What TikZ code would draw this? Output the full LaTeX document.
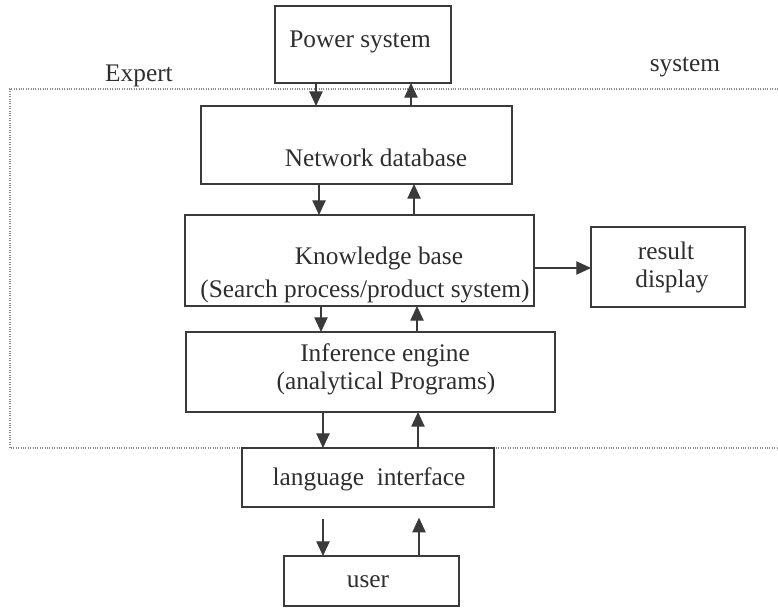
\documentclass[tikz,border=0pt]{standalone}
\usepackage{fontspec}
\setmainfont{Liberation Serif}
\usetikzlibrary{arrows.meta}
\definecolor{ink}{HTML}{3A3A3A}
\definecolor{txt}{HTML}{2E2E2E}
\definecolor{dotc}{HTML}{8A8A8A}
\tikzset{
  box/.style={draw=ink, line width=1pt, inner sep=0pt, outer sep=0pt, rectangle},
  lbl/.style={anchor=base, inner sep=0pt, text=txt, font=\fontsize{19}{23}\selectfont},
  arr/.style={draw=ink, line width=0.9pt, -{Triangle[length=11pt,width=10pt]}},
  frame/.style={draw=dotc, line width=0.8pt, densely dotted}
}
\begin{document}
\begin{tikzpicture}[x=0.75pt,y=-0.75pt]
\useasboundingbox (0,0) rectangle (778,609);
% dotted expert-system frame
\draw[frame] (778,89) -- (10,89) -- (10,448) -- (778,448);
% boxes
\node[box, minimum width=132pt, minimum height=57.75pt] (power) at (363,44.5) {};
\node[box, minimum width=233.25pt, minimum height=58.5pt] (net) at (356.5,145) {};
\node[box, minimum width=261.75pt, minimum height=68.25pt] (kb) at (359.5,260.5) {};
\node[box, minimum width=115.5pt, minimum height=60pt] (res) at (668,267) {};
\node[box, minimum width=276.75pt, minimum height=60pt] (ie) at (370.5,372) {};
\node[box, minimum width=189pt, minimum height=44.25pt] (lang) at (368,477.5) {};
\node[box, minimum width=131.25pt, minimum height=37.5pt] (user) at (371.5,581) {};
% texts
\node[lbl] (tpower) at (360,48) {Power system};
\node[lbl] (texpert) at (139,82) {Expert};
\node[lbl] (tsystem) at (685,72) {system};
\node[lbl] (tnet) at (376,167) {Network database};
\node[lbl] (tkb1) at (379,265) {Knowledge base};
\node[lbl] (tkb2) at (365,298) {(Search process/product system)};
\node[lbl] (tres1) at (666,260) {result};
\node[lbl] (tres2) at (672,288) {display};
\node[lbl] (tie1) at (385,362) {Inference engine};
\node[lbl] (tie2) at (386,390) {(analytical Programs)};
\node[lbl] (tlang) at (369,485) {language\ \ interface};
\node[lbl] (tuser) at (368,587) {user};
% arrow columns
\coordinate (a1) at (316,0); \coordinate (a2) at (411,0);
\coordinate (b1) at (319,0); \coordinate (b2) at (414,0);
\coordinate (c1) at (321,0); \coordinate (c2) at (417,0);
\coordinate (d1) at (323,0); \coordinate (d2) at (418,0);
\coordinate (e1) at (323,0); \coordinate (e2) at (419,0);
\coordinate (r) at (0,268);
% connectors
\draw[arr] (power.south -| a1) -- (net.north -| a1);
\draw[arr] (net.north -| a2) -- (power.south -| a2);
\draw[arr] (net.south -| b1) -- (kb.north -| b1);
\draw[arr] (kb.north -| b2) -- (net.south -| b2);
\draw[arr] (kb.south -| c1) -- (ie.north -| c1);
\draw[arr] (ie.north -| c2) -- (kb.south -| c2);
\draw[arr] (ie.south -| d1) -- (lang.north -| d1);
\draw[arr] (lang.north -| d2) -- (ie.south -| d2);
\draw[arr] ([yshift=-9pt]lang.south -| e1) -- (user.north -| e1);
\draw[arr] (user.north -| e2) -- ([yshift=-8pt]lang.south -| e2);
\draw[arr] (kb.east |- r) -- (res.west |- r);
\end{tikzpicture}
\end{document}
